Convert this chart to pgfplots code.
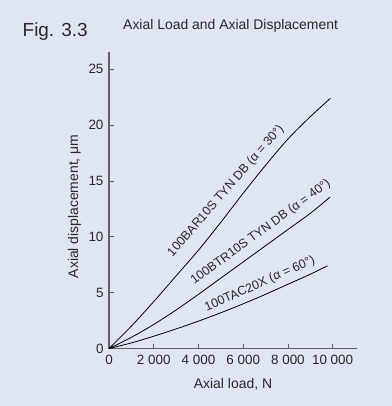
\documentclass[border=0pt]{standalone}
\usepackage{pgfplots}
\pgfplotsset{compat=1.18}
\usepackage{fontspec}
\setmainfont{Liberation Sans}
\definecolor{bgc}{RGB}{223,229,242}
\definecolor{axc}{RGB}{95,95,95}
\definecolor{txc}{RGB}{40,40,40}
\begin{document}
\begin{tikzpicture}[x=1bp,y=1bp]
\fill[bgc] (0,0) rectangle (392,406);
\useasboundingbox (0,0) rectangle (392,406);
\node[anchor=base west, inner sep=0, font=\fontsize{19}{22}\selectfont, text=txc] at (22.5,369.5) {Fig. 3.3};
\node[anchor=base west, inner sep=0, font=\fontsize{14}{16}\selectfont, text=txc] at (123,376.7) {Axial Load and Axial Displacement};
\begin{axis}[
  at={(109bp,57.5bp)}, anchor=south west,
  scale only axis, width=248bp, height=296bp,
  xmin=0, xmax=11090, ymin=0, ymax=26.5,
  scaled x ticks=false, scaled y ticks=false,
  axis x line=bottom, axis y line=left,
  axis line style={-, axc, line width=1.1pt},
  tick align=inside, major tick length=4.5bp,
  tick style={axc, line width=0.8pt},
  xtick={0,2000,4000,6000,8000,10000},
  xticklabels={0,2 000,4 000,6 000,8 000,10 000},
  ytick={0,5,10,15,20,25},
  yticklabels={0,5,10,15,20,25},
  ticklabel style={font=\fontsize{13.5}{15}\selectfont, text=txc},
  xticklabel style={yshift=-3.5bp},
  yticklabel style={xshift=-2bp},
  xlabel={Axial load, N},
  ylabel={Axial displacement, μm},
  label style={font=\fontsize{14}{16}\selectfont, text=txc},
  xlabel style={at={(axis description cs:0.5,0)}, anchor=base, yshift=-39.5bp},
  ylabel style={at={(axis description cs:-0.125,0.48)}, anchor=base},
  clip=false,
]
\addplot[black, line width=0.8pt, smooth] coordinates {
(0,0) (1000,2.0) (2000,4.2) (3000,6.5) (4000,8.8) (5000,11.3) (6000,13.9) (7000,16.4) (8000,18.75) (9000,20.75) (9900,22.4)};
\addplot[black, line width=0.8pt, smooth] coordinates {
(0,0) (1000,1.0) (2000,2.15) (3000,3.45) (4000,4.85) (5000,6.3) (6000,7.75) (7000,9.2) (8000,10.65) (9000,12.1) (9880,13.55)};
\addplot[black, line width=0.8pt, smooth] coordinates {
(0,0) (1000,0.5) (2000,1.1) (3000,1.75) (4000,2.45) (5000,3.2) (6000,4.0) (7000,4.85) (8000,5.75) (9000,6.65) (9770,7.4)};
\node[rotate=49, inner sep=0, font=\fontsize{12.5}{14}\selectfont, text=txc] at (axis cs:5230,14.1) {100BAR10S TYN DB (α = 30°)};
\node[rotate=36, inner sep=0, font=\fontsize{12.5}{14}\selectfont, text=txc] at (axis cs:6787,10.4) {100BTR10S TYN DB (α = 40°)};
\node[rotate=24, inner sep=0, font=\fontsize{12.5}{14}\selectfont, text=txc] at (axis cs:6750,5.76) {100TAC20X (α = 60°)};
\end{axis}
\end{tikzpicture}
\end{document}
